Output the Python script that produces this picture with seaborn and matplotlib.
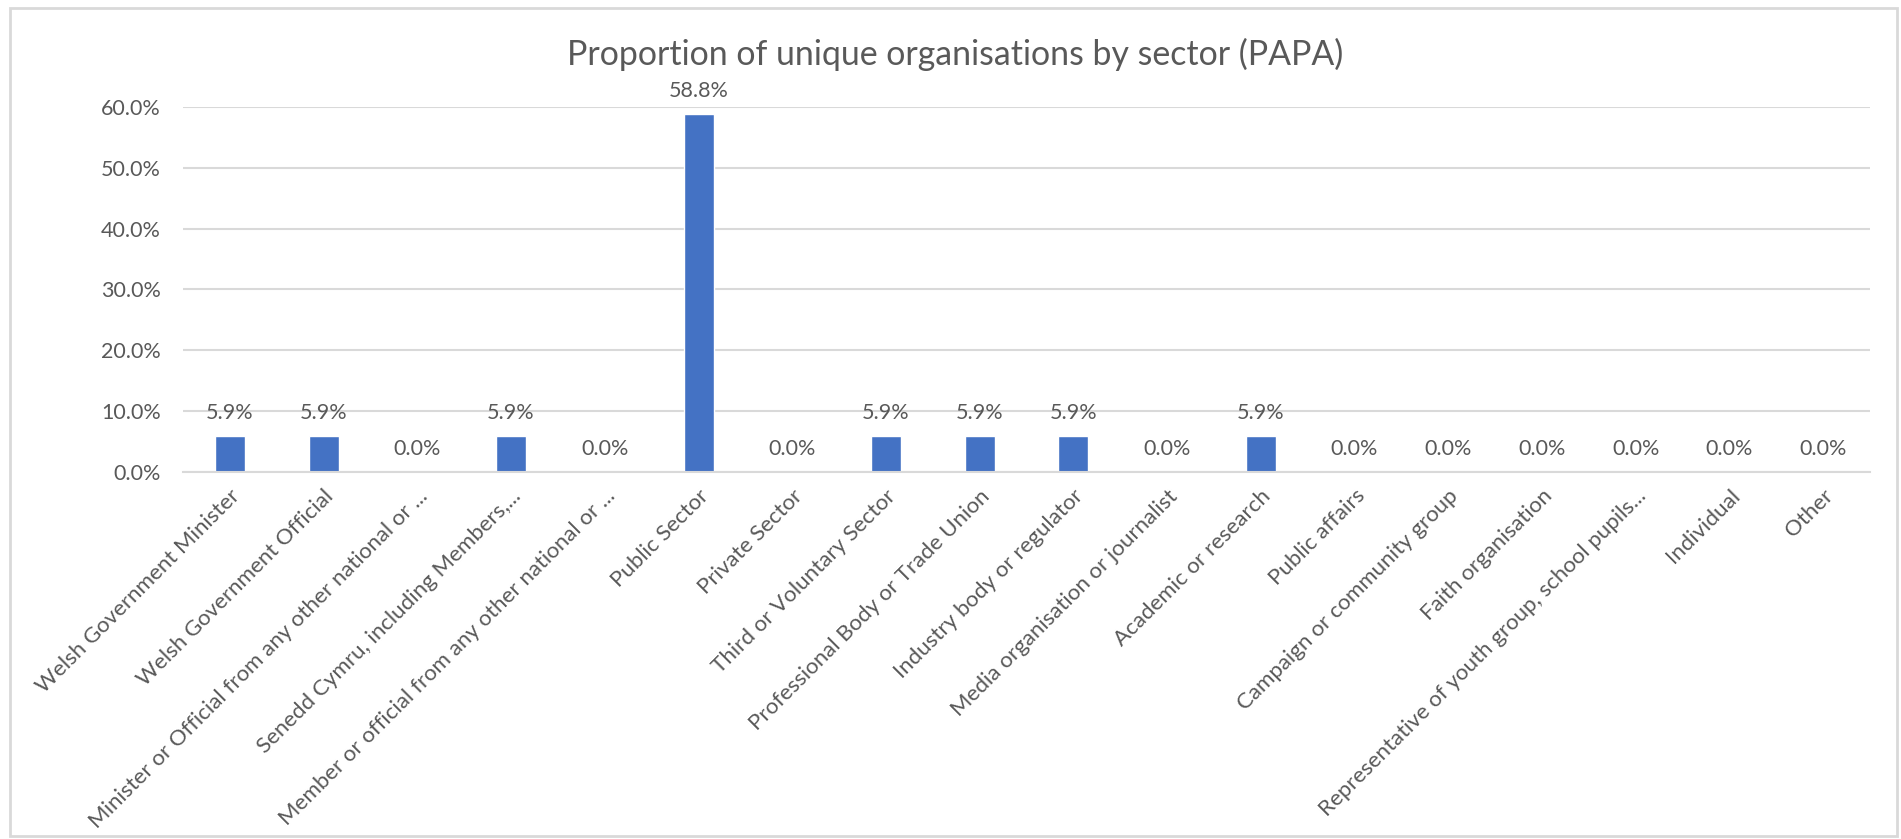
import matplotlib.pyplot as plt
import seaborn as sns
from matplotlib.patches import Rectangle
from matplotlib.ticker import PercentFormatter

# =========================
# DATA
# =========================
sectors = [
    "Welsh Government Minister",
    "Welsh Government Official",
    "Minister or Official from any other national or ...",
    "Senedd Cymru, including Members,...",
    "Member or official from any other national or ...",
    "Public Sector",
    "Private Sector",
    "Third or Voluntary Sector",
    "Professional Body or Trade Union",
    "Industry body or regulator",
    "Media organisation or journalist",
    "Academic or research",
    "Public affairs",
    "Campaign or community group",
    "Faith organisation",
    "Representative of youth group, school pupils...",
    "Individual",
    "Other",
]
shares = [5.9, 5.9, 0.0, 5.9, 0.0, 58.8, 0.0, 5.9, 5.9, 5.9, 0.0, 5.9,
          0.0, 0.0, 0.0, 0.0, 0.0, 0.0]
y_ticks = [0, 10, 20, 30, 40, 50, 60]

TITLE = "Proportion of unique organisations by sector (PAPA)"
BAR_COLOR = "#4472C4"
TEXT_COLOR = "#595959"
GRID_COLOR = "#D9D9D9"

# =========================
# STYLE
# =========================
sns.set_style("white")
plt.rcParams["font.family"] = ["Lato", "DejaVu Sans"]

fig = plt.figure(figsize=(19.01, 8.39), dpi=100)
ax = fig.add_axes([0.0963, 0.4374, 0.8874, 0.4351])

sns.barplot(x=sectors, y=shares, color=BAR_COLOR, saturation=1,
            width=0.32, ax=ax)

# axes look (Excel-like)
ax.set_ylim(0, 60)
ax.set_yticks(y_ticks)
ax.yaxis.set_major_formatter(PercentFormatter(xmax=100, decimals=1))
ax.grid(axis="y", color=GRID_COLOR, linewidth=1.5)
ax.set_axisbelow(True)
for side in ["left", "right", "top"]:
    ax.spines[side].set_visible(False)
ax.spines["bottom"].set_color(GRID_COLOR)
ax.spines["bottom"].set_linewidth(1.5)
ax.tick_params(axis="both", length=0, colors=TEXT_COLOR, labelsize=15.5)
ax.tick_params(axis="y", pad=16)
ax.tick_params(axis="x", pad=10)
plt.setp(ax.get_xticklabels(), rotation=45, ha="right",
         rotation_mode="anchor", fontsize=16)
ax.set_xlabel("")
ax.set_ylabel("")

# data labels
for i, v in enumerate(shares):
    ax.annotate(f"{v:.1f}%", (i, v), xytext=(0, 16.5),
                textcoords="offset points", ha="center", va="center",
                fontsize=15.5, color=TEXT_COLOR)

fig.text(0.5024, 0.935, TITLE, ha="center", va="center",
         fontsize=24.4, color=TEXT_COLOR)

# chart area border
fig.patches.append(Rectangle((0.005, 0.003), 0.993, 0.987,
                             transform=fig.transFigure, fill=False,
                             edgecolor=GRID_COLOR, linewidth=2))

fig.savefig("out.png", dpi=100)
plt.close(fig)
